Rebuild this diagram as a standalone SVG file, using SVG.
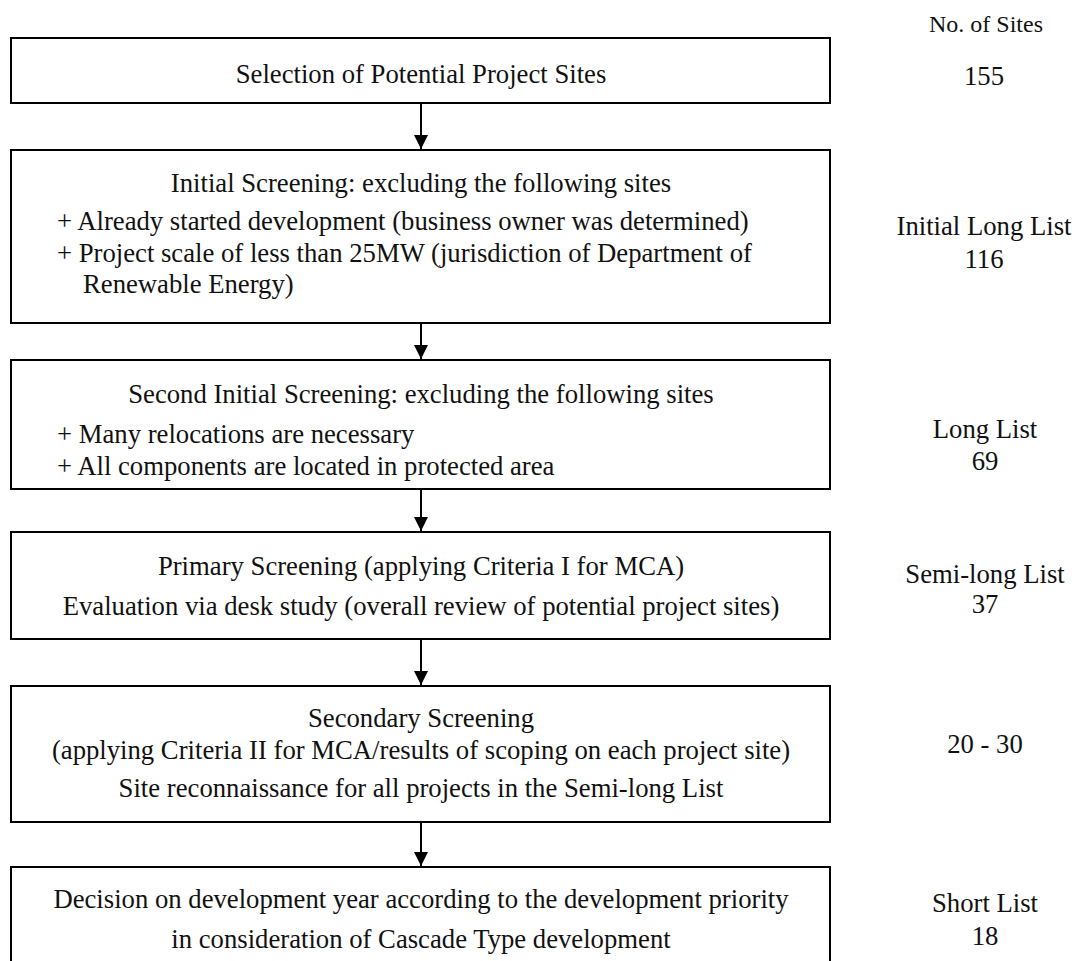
<svg xmlns="http://www.w3.org/2000/svg" width="1075" height="961" viewBox="0 0 1075 961">
  <style>
    .box { fill: #ffffff; stroke: #000000; stroke-width: 2; }
    .t { font-family: "Liberation Serif", "Times New Roman", serif; font-size: 26.7px; fill: #111111; }
    .h { font-size: 24px; }
    .c { text-anchor: middle; }
    .conn { stroke: #000000; stroke-width: 2; fill: none; }
  </style>
  <defs>
    <marker id="arrow" viewBox="0 0 14 14" refX="14" refY="7" markerWidth="14" markerHeight="14" markerUnits="userSpaceOnUse" orient="auto">
      <path d="M0,0 L14,7 L0,14 Z" fill="#000000"/>
    </marker>
  </defs>
  <rect width="1075" height="961" fill="#ffffff"/>

  <!-- column heading and counts -->
  <g id="counts">
    <text class="t h c" x="986" y="32">No. of Sites</text>
    <text class="t c" x="984" y="85">155</text>
    <text class="t c" x="984" y="235">Initial Long List</text>
    <text class="t c" x="984" y="268">116</text>
    <text class="t c" x="985" y="438">Long List</text>
    <text class="t c" x="985" y="470">69</text>
    <text class="t c" x="985" y="583">Semi-long List</text>
    <text class="t c" x="985" y="613">37</text>
    <text class="t c" x="985" y="753">20 - 30</text>
    <text class="t c" x="985" y="912">Short List</text>
    <text class="t c" x="985" y="945">18</text>
  </g>

  <g id="selection">
    <rect class="box" x="11" y="38" width="819" height="65"/>
    <text class="t c" x="421" y="83">Selection of Potential Project Sites</text>
  </g>

  <g id="initial-screening">
    <rect class="box" x="11" y="150" width="819" height="173"/>
    <text class="t c" x="421" y="192">Initial Screening: excluding the following sites</text>
    <text class="t" x="57" y="230">+ Already started development (business owner was determined)</text>
    <text class="t" x="57" y="262">+ Project scale of less than 25MW (jurisdiction of Department of</text>
    <text class="t" x="83" y="293">Renewable Energy)</text>
  </g>

  <g id="second-initial-screening">
    <rect class="box" x="11" y="360" width="819" height="129"/>
    <text class="t c" x="421" y="403">Second Initial Screening: excluding the following sites</text>
    <text class="t" x="57" y="443">+ Many relocations are necessary</text>
    <text class="t" x="57" y="475">+ All components are located in protected area</text>
  </g>

  <g id="primary-screening">
    <rect class="box" x="11" y="532" width="819" height="107"/>
    <text class="t c" x="421" y="575">Primary Screening (applying Criteria I for MCA)</text>
    <text class="t c" x="421" y="615">Evaluation via desk study (overall review of potential project sites)</text>
  </g>

  <g id="secondary-screening">
    <rect class="box" x="11" y="686" width="819" height="136"/>
    <text class="t c" x="421" y="727">Secondary Screening</text>
    <text class="t c" x="421" y="759">(applying Criteria II for MCA/results of scoping on each project site)</text>
    <text class="t c" x="421" y="797">Site reconnaissance for all projects in the Semi-long List</text>
  </g>

  <g id="decision">
    <rect class="box" x="11" y="867" width="819" height="110"/>
    <text class="t c" x="421" y="908">Decision on development year according to the development priority</text>
    <text class="t c" x="421" y="948">in consideration of Cascade Type development</text>
  </g>

  <g id="connectors">
    <line class="conn" x1="421" y1="104" x2="421" y2="149" marker-end="url(#arrow)"/>
    <line class="conn" x1="421" y1="324" x2="421" y2="359" marker-end="url(#arrow)"/>
    <line class="conn" x1="421" y1="490" x2="421" y2="531" marker-end="url(#arrow)"/>
    <line class="conn" x1="421" y1="640" x2="421" y2="685" marker-end="url(#arrow)"/>
    <line class="conn" x1="421" y1="823" x2="421" y2="866" marker-end="url(#arrow)"/>
  </g>
</svg>
